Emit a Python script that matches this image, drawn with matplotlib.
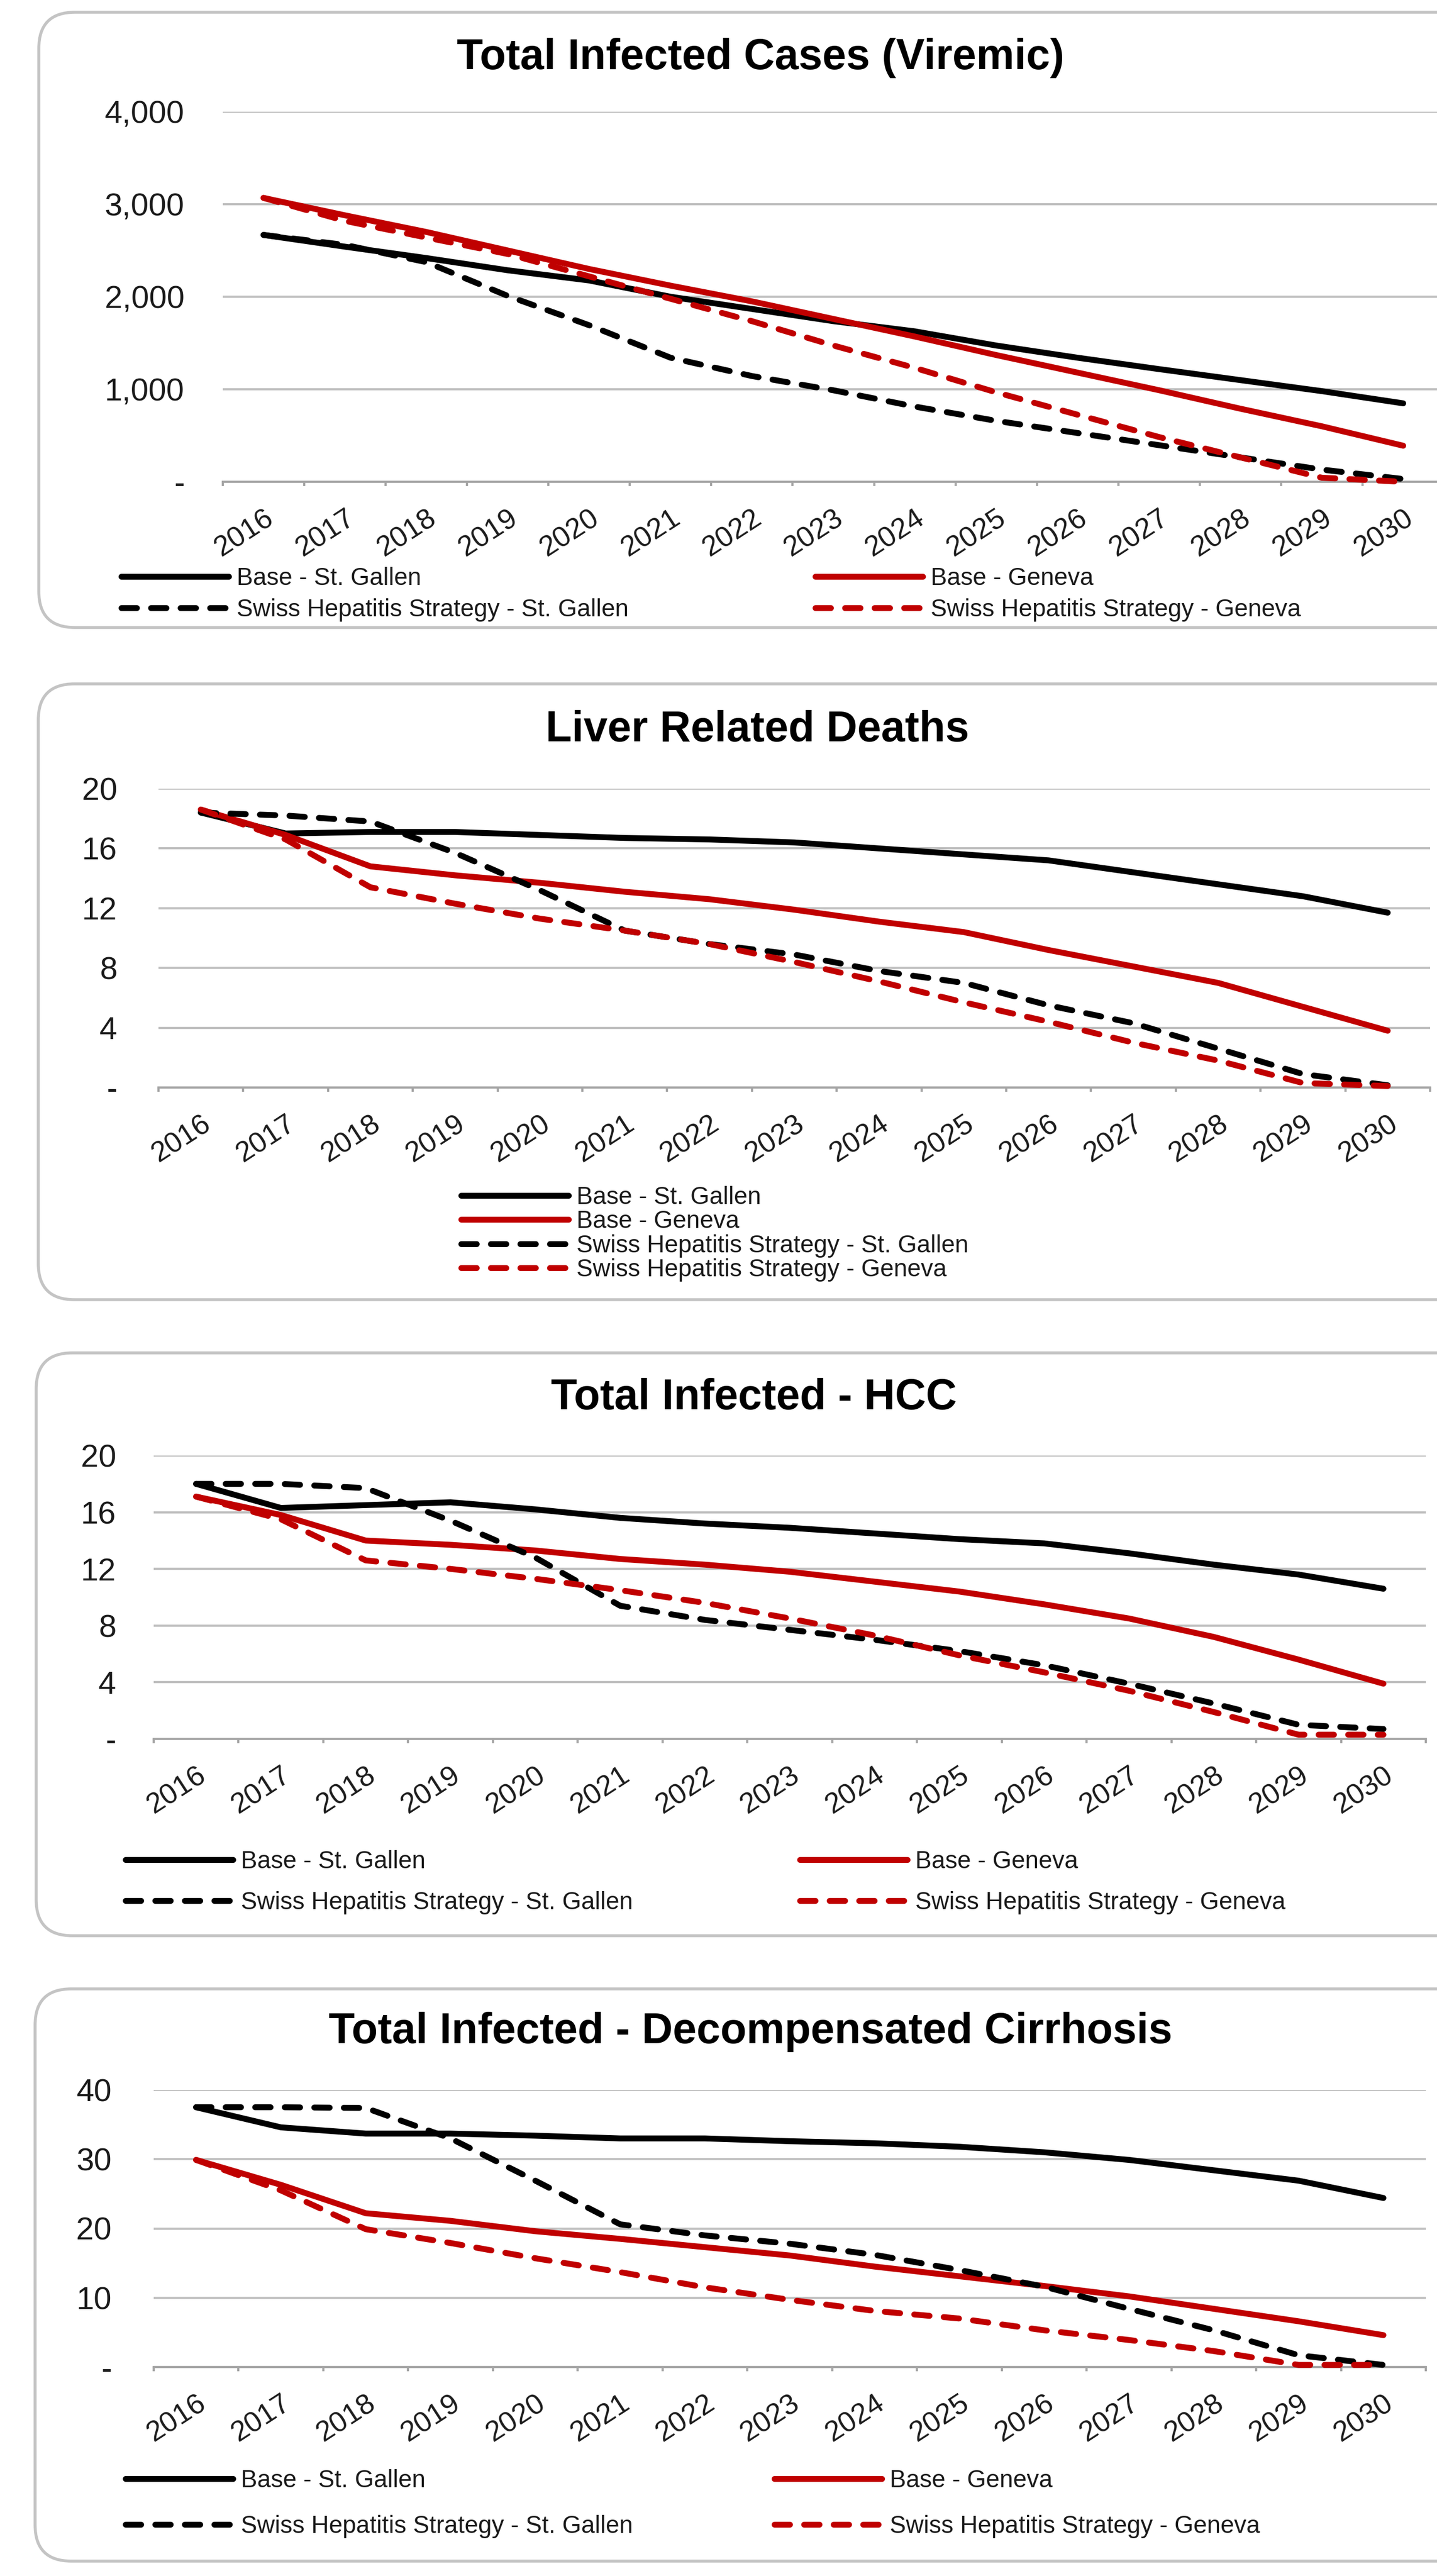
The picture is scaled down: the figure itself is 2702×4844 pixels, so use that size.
"""
Four Excel-style line panels: HCV projections for St. Gallen and Geneva,
base case vs Swiss Hepatitis Strategy, 2016-2030.
"""

import matplotlib

matplotlib.use("Agg")
import matplotlib.pyplot as plt
import matplotlib.transforms as mtransforms
import numpy as np
from matplotlib.patches import FancyBboxPatch
from matplotlib.ticker import FuncFormatter

years = [str(y) for y in range(2016, 2031)]

labels = [
    "Base - St. Gallen",
    "Base - Geneva",
    "Swiss Hepatitis Strategy - St. Gallen",
    "Swiss Hepatitis Strategy - Geneva",
]

# Total infected cases (viremic)
viremic_base_sg = [2668, 2541, 2418, 2286, 2176, 2000, 1868, 1736, 1626, 1473, 1341, 1218, 1099, 980, 848]
viremic_base_ge = [3068, 2880, 2700, 2500, 2300, 2120, 1950, 1760, 1570, 1370, 1180, 990, 790, 600, 390]
viremic_shs_sg = [2668, 2560, 2374, 2009, 1692, 1341, 1143, 989, 813, 659, 527, 396, 264, 132, 30]
viremic_shs_ge = [3068, 2820, 2640, 2462, 2220, 1978, 1736, 1473, 1231, 967, 725, 484, 264, 44, 0]

# Liver related deaths
deaths_base_sg = [18.4, 17.0, 17.1, 17.1, 16.9, 16.7, 16.6, 16.4, 16.0, 15.6, 15.2, 14.4, 13.6, 12.8, 11.7]
deaths_base_ge = [18.6, 16.9, 14.8, 14.2, 13.7, 13.1, 12.6, 11.9, 11.1, 10.4, 9.2, 8.1, 7.0, 5.4, 3.8]
deaths_shs_sg = [18.4, 18.2, 17.8, 15.7, 13.2, 10.5, 9.6, 8.9, 7.8, 7.0, 5.5, 4.3, 2.6, 0.9, 0.15]
deaths_shs_ge = [18.6, 16.6, 13.4, 12.3, 11.3, 10.5, 9.6, 8.4, 7.1, 5.7, 4.4, 3.0, 1.8, 0.3, 0.1]

# Total infected - HCC
hcc_base_sg = [18.0, 16.3, 16.5, 16.7, 16.2, 15.6, 15.2, 14.9, 14.5, 14.1, 13.8, 13.1, 12.3, 11.6, 10.6]
hcc_base_ge = [17.1, 15.8, 14.0, 13.7, 13.3, 12.7, 12.3, 11.8, 11.1, 10.4, 9.5, 8.5, 7.2, 5.6, 3.9]
hcc_shs_sg = [18.0, 18.0, 17.7, 15.4, 12.8, 9.4, 8.4, 7.7, 7.0, 6.2, 5.2, 3.9, 2.5, 1.0, 0.7]
hcc_shs_ge = [17.1, 15.5, 12.6, 12.0, 11.3, 10.5, 9.6, 8.5, 7.3, 5.9, 4.7, 3.4, 1.9, 0.3, 0.3]

# Total infected - decompensated cirrhosis
dc_base_sg = [37.5, 34.6, 33.7, 33.7, 33.4, 33.0, 33.0, 32.6, 32.3, 31.8, 31.0, 29.9, 28.4, 26.9, 24.4]
dc_base_ge = [29.9, 26.3, 22.2, 21.1, 19.6, 18.5, 17.3, 16.1, 14.5, 13.1, 11.7, 10.2, 8.4, 6.6, 4.6]
dc_shs_sg = [37.5, 37.5, 37.4, 33.0, 26.9, 20.6, 19.0, 17.8, 16.2, 14.0, 11.6, 8.4, 5.3, 1.7, 0.3]
dc_shs_ge = [29.9, 25.5, 19.9, 17.9, 15.7, 13.7, 11.5, 9.7, 8.1, 7.0, 5.3, 3.9, 2.3, 0.3, 0.3]

W, H, DPI = 2702, 4844, 100
RED = "#c00000"
GRID = "#c0c0c0"
AXIS = "#a6a6a6"
BOX = "#c4c4c4"
TXT = "#1a1a1a"
LW = 8
DASH = (0, (2.6, 2.4))

plt.rcParams["font.family"] = ["Liberation Sans", "DejaVu Sans"]

fig = plt.figure(figsize=(W / DPI, H / DPI), dpi=DPI)
px = mtransforms.Affine2D().scale(1 / DPI) + fig.dpi_scale_trans


def fx(x):
    return x / W


def fy(y):
    return 1 - y / H


# layout in pixels (y measured from the top of the image)
panels = [
    dict(title="Total Infected Cases (Viremic)",
         data=(viremic_base_sg, viremic_base_ge, viremic_shs_sg, viremic_shs_ge),
         ymax=4000, step=1000, box=(73, 23, 1180), axes=(419, 2715, 210, 906),
         title_xy=(1430, 130), ypad=52,
         cols=[(228, [0, 2]), (1533, [1, 3])], rows=(1088, 1147)),
    dict(title="Liver Related Deaths",
         data=(deaths_base_sg, deaths_base_ge, deaths_shs_sg, deaths_shs_ge),
         ymax=20, step=4, box=(72, 1286, 2444), axes=(298, 2689, 1483, 2045),
         title_xy=(1424, 1394), ypad=56,
         cols=[(867, [0, 1, 2, 3])], rows=(2253, 2387)),
    dict(title="Total Infected - HCC",
         data=(hcc_base_sg, hcc_base_ge, hcc_shs_sg, hcc_shs_ge),
         ymax=20, step=4, box=(68, 2544, 3640), axes=(289, 2681, 2737, 3270),
         title_xy=(1417, 2650), ypad=51,
         cols=[(236, [0, 2]), (1504, [1, 3])], rows=(3501, 3578)),
    dict(title="Total Infected - Decompensated Cirrhosis",
         data=(dc_base_sg, dc_base_ge, dc_shs_sg, dc_shs_ge),
         ymax=40, step=10, box=(66, 3740, 4816), axes=(289, 2681, 3930, 4451),
         title_xy=(1411, 3842), ypad=57,
         cols=[(236, [0, 2]), (1456, [1, 3])], rows=(4665, 4751)),
]

styles = [("black", "-"), (RED, "-"), ("black", DASH), (RED, DASH)]
LEG_FS = 33
leg_px = LEG_FS * DPI / 72
shift = mtransforms.ScaledTranslation(12 / DPI, 0, fig.dpi_scale_trans)

x = np.arange(len(years))

for p in panels:
    bx, btop, bbot = p["box"]
    frame = FancyBboxPatch((bx, H - bbot), 3400 - bx, bbot - btop,
                           boxstyle="round,pad=0,rounding_size=68",
                           transform=px, facecolor="white", edgecolor=BOX,
                           linewidth=4, zorder=-5)
    fig.add_artist(frame)

    left, right, top, bottom = p["axes"]
    ax = fig.add_axes([fx(left), fy(bottom), (right - left) / W, (bottom - top) / H])
    ax.set_facecolor("none")

    lines = []
    for vals, (color, ls) in zip(p["data"], styles):
        (ln,) = ax.plot(x, vals, color=color, lw=LW, linestyle=ls,
                        solid_capstyle="round", dash_capstyle="round",
                        clip_on=False, zorder=3)
        lines.append(ln)

    ax.set_xlim(-0.5, len(years) - 0.5)
    ax.set_ylim(0, p["ymax"])
    ax.set_yticks(np.arange(0, p["ymax"] + p["step"], p["step"]))
    ax.yaxis.set_major_formatter(
        FuncFormatter(lambda v, _: "-" if v == 0 else f"{v:,.0f}"))
    ax.grid(axis="y", color=GRID, lw=3)
    ax.set_axisbelow(True)
    for s in ("top", "right", "left"):
        ax.spines[s].set_visible(False)
    ax.spines["bottom"].set_color(AXIS)
    ax.spines["bottom"].set_linewidth(3)

    ax.set_xticks(x)
    ax.set_xticklabels(years, rotation=33, ha="right", va="top",
                       rotation_mode="anchor")
    for lab in ax.get_xticklabels():
        lab.set_transform(lab.get_transform() + shift)
    ax.set_xticks(np.arange(-0.5, len(years), 1), minor=True)
    ax.tick_params(axis="x", which="major", length=0, pad=31,
                   labelsize=39, labelcolor=TXT)
    ax.tick_params(axis="x", which="minor", length=6, width=3,
                   color=AXIS, direction="out")
    ax.tick_params(axis="y", length=0, pad=p["ypad"], labelsize=43,
                   labelcolor=TXT)

    tx, ty = p["title_xy"]
    fig.text(fx(tx), fy(ty), p["title"], ha="center", va="baseline",
             fontsize=58, fontweight="bold", color="black")

    # legend, one column at a time so each column sits where Excel put it
    r0, r1 = p["rows"]
    for cx, idx in p["cols"]:
        n = len(idx)
        pitch = (r1 - r0) / (n - 1)
        spacing = pitch / leg_px - 0.94
        leg = fig.legend([lines[i] for i in idx], [labels[i] for i in idx],
                         loc="center left",
                         bbox_to_anchor=(fx(cx), fy((r0 + r1) / 2)),
                         frameon=False, fontsize=LEG_FS, handlelength=4.4,
                         handletextpad=0.33, labelspacing=spacing,
                         borderpad=0, borderaxespad=0)
        for t in leg.get_texts():
            t.set_color(TXT)

fig.savefig("out.png", dpi=DPI, facecolor="white")
